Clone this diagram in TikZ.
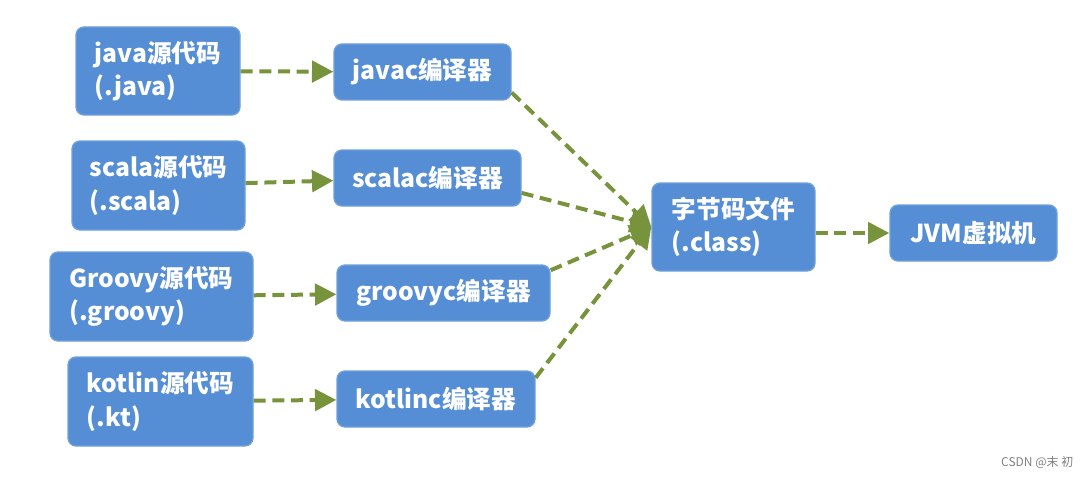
\documentclass[tikz,border=0pt]{standalone}
\usepackage{fontspec}
\setmainfont{Noto Sans CJK SC}
\usetikzlibrary{arrows.meta}

\definecolor{boxblue}{HTML}{558ED5}
\definecolor{boxline}{HTML}{6FA0DC}
\definecolor{arrowgreen}{HTML}{77933C}

\begin{document}
\begin{tikzpicture}[x=0.75pt, y=-0.75pt,
  box/.style={draw=boxline, line width=1pt, fill=boxblue, rounded corners=6pt,
              text=white, font=\fontsize{18.5}{25}\selectfont\bfseries,
              align=left, inner sep=1pt},
  flow/.style={draw=arrowgreen, line width=3pt, dash pattern=on 9pt off 5pt,
               -{Triangle[length=16pt,width=16pt]}}]

\useasboundingbox (0,0) rectangle (1092,478);

% 源代码
\node [box, minimum width=123pt,    minimum height=66pt]    (java)   at (158,71)    {java源代码\\(.java)};
\node [box, minimum width=129.75pt, minimum height=66.75pt] (scala)  at (158.5,185.5) {scala源代码\\(.scala)};
\node [box, minimum width=152.25pt, minimum height=66.75pt] (groovy) at (151.5,296.5) {Groovy源代码\\(.groovy)};
\node [box, minimum width=138.75pt, minimum height=66.75pt] (kotlin) at (160.5,401.5) {kotlin源代码\\(.kt)};

% 编译器
\node [box, minimum width=132.75pt, minimum height=42pt] (javac)   at (422.5,72)  {javac编译器};
\node [box, minimum width=140.25pt, minimum height=42pt] (scalac)  at (427.5,178) {scalac编译器};
\node [box, minimum width=159.75pt, minimum height=42pt] (groovyc) at (443.5,293) {groovyc编译器};
\node [box, minimum width=148.5pt,  minimum height=42pt] (kotlinc) at (436,399)   {kotlinc编译器};

\node [box, minimum width=122.25pt, minimum height=66pt] (class) at (733.5,227) {字节码文件\\(.class)};
\node [box, minimum width=125.25pt, minimum height=42pt] (jvm)   at (973.5,233) {JVM虚拟机};

\draw [flow] (java)   -- (javac);
\draw [flow] (scala)  -- (scalac);
\draw [flow] (groovy) -- (groovyc);
\draw [flow] (kotlin) -- (kotlinc);

\draw [flow] (javac.-13)  -- (class.west);
\draw [flow] (scalac.-9)  -- (class.west);
\draw [flow] (groovyc.12) -- (class.west);
\draw [flow] (kotlinc.12) -- (class.west);

\draw [flow] (class.east |- jvm.west) -- (jvm.west);

\node [text=gray, font=\fontsize{9}{11}\selectfont, anchor=east] (mark) at (1078,462) {CSDN @末 初};

\end{tikzpicture}
\end{document}
